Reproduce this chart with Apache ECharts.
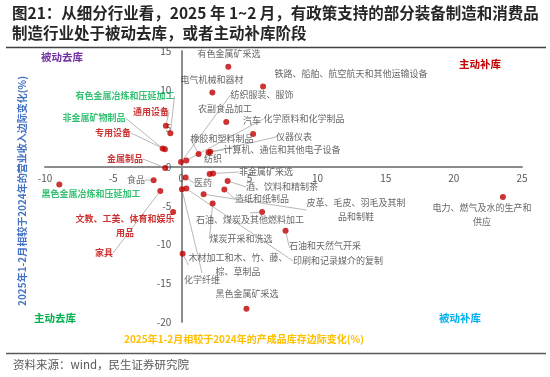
<!DOCTYPE html>
<html><head><meta charset="utf-8">
<script src="https://cdn.jsdelivr.net/npm/echarts@6/dist/echarts.min.js"></script>
<style>html,body{margin:0;padding:0;background:#fff}#c{width:550px;height:377px}</style>
</head><body><div id="c"></div>
<script>
// ---------- data ----------
const industries = [
  '有色金属冶炼和压延加工','通用设备','非金属矿物制品','专用设备','金属制品',
  '食品','黑色金属冶炼和压延加工','文教、工美、体育和娱乐用品','家具',
  '有色金属矿采选','铁路、船舶、航空航天和其他运输设备','电气机械和器材','农副食品加工','汽车',
  '纺织服装、服饰','化学原料和化学制品','橡胶和塑料制品','仪器仪表','计算机、通信和其他电子设备',
  '医药','化学纤维','印刷和记录媒介的复制','纺织','非金属矿采选','酒、饮料和精制茶','造纸和纸制品',
  '皮革、毛皮、羽毛及其制品和制鞋','煤炭开采和洗选','石油、煤炭及其他燃料加工','石油和天然气开采',
  '木材加工和木、竹、藤、棕、草制品','黑色金属矿采选','电力、燃气及水的生产和供应'
];
// x: 2025年1-2月相较于2024年的产成品库存边际变化(%)
const inventoryChange = [
  -0.8, -1.13, -1.37, -1.2, -1.18,
  -2.03, -8.95, -0.6, -1.54,
  3.45, 6.0, 2.28, 3.3, 5.27,
  -0.02, 0.37, 1.27, 2.0, 2.13,
  0.32, 0.05, 0.37, 2.08, 2.33, 3.4, 3.16,
  1.64, 2.3, 5.93, 7.65,
  0.1, 4.78, 23.6
];
// y: 2025年1-2月相较于2024年的营业收入边际变化(%)
const revenueChange = [
  4.37, 5.36, 2.4, 2.3, -0.1,
  -1.7, -2.25, -5.8, -3.08,
  12.95, 10.4, 9.65, 5.84, 4.28,
  0.65, 0.87, 1.69, 1.9, 2.0,
  -1.34, -2.86, -2.77, -0.9, -0.82, -1.78, -2.9,
  -3.5, -4.7, -5.8, -8.2,
  -11.2, -18.3, -3.85
];
const xTicks = [-10, -5, 0, 5, 10, 15, 20, 25];
const yTicks = [-20, -15, -10, -5, 0, 5, 10, 15];

// ---------- label styling (positions / colours, not data) ----------
const displayText = {
  '文教、工美、体育和娱乐用品':'文教、工美、体育和娱乐\n用品',
  '皮革、毛皮、羽毛及其制品和制鞋':'皮革、毛皮、羽毛及其制\n品和制鞋',
  '木材加工和木、竹、藤、棕、草制品':'木材加工和木、竹、藤、\n棕、草制品',
  '电力、燃气及水的生产和供应':'电力、燃气及水的生产和\n供应'
};
const redLabels = ['通用设备','专用设备','金属制品','文教、工美、体育和娱乐用品','家具'];
const greenLabels = ['有色金属冶炼和压延加工','非金属矿物制品','黑色金属冶炼和压延加工'];
const labelPos = {
  '有色金属冶炼和压延加工':[125,96],'通用设备':[151,112],'非金属矿物制品':[94,118],'专用设备':[113,133],'金属制品':[125,159],
  '食品':[136,180],'黑色金属冶炼和压延加工':[91,194],'文教、工美、体育和娱乐用品':[125,226],'家具':[104,253],
  '有色金属矿采选':[229,54],'铁路、船舶、航空航天和其他运输设备':[351,74],'电气机械和器材':[212,80],'农副食品加工':[225,109],'汽车':[252,121],
  '纺织服装、服饰':[262,95],'化学原料和化学制品':[304,119],'橡胶和塑料制品':[222,139],'仪器仪表':[294,137],'计算机、通信和其他电子设备':[282,150],
  '医药':[203,183],'化学纤维':[202,280],'印刷和记录媒介的复制':[338,261],'纺织':[213,159],'非金属矿采选':[266,172],'酒、饮料和精制茶':[282,187],'造纸和纸制品':[262,199],
  '皮革、毛皮、羽毛及其制品和制鞋':[356,210],'煤炭开采和洗选':[241,239],'石油、煤炭及其他燃料加工':[250,220],'石油和天然气开采':[325,246],
  '木材加工和木、竹、藤、棕、草制品':[238,265],'黑色金属矿采选':[247,294],'电力、燃气及水的生产和供应':[482,215]
};
const noLeader = ['黑色金属冶炼和压延加工','文教、工美、体育和娱乐用品','有色金属矿采选','电气机械和器材',
  '铁路、船舶、航空航天和其他运输设备','农副食品加工','汽车','黑色金属矿采选','电力、燃气及水的生产和供应','纺织'];

const FONT = "'Noto Sans CJK SC','Microsoft YaHei',sans-serif";
const GRID = { left: 45, right: 28, top: 51, bottom: 55 };
const W = 550, H = 377;
const gridW = W - GRID.left - GRID.right, gridH = H - GRID.top - GRID.bottom;
const xMin = xTicks[0], xMax = xTicks[xTicks.length - 1];
const yMin = yTicks[0], yMax = yTicks[yTicks.length - 1];
// move the axes (line + labels) to cross at zero
const xAxisOffset = -((0 - yMin) / (yMax - yMin)) * gridH;
const yAxisOffset = -((0 - xMin) / (xMax - xMin)) * gridW;

const seriesData = industries.map((n, i) => {
  const isRed = redLabels.includes(n), isGreen = greenLabels.includes(n);
  return {
    name: n,
    value: [inventoryChange[i], revenueChange[i]],
    label: {
      color: isRed ? '#c00000' : (isGreen ? '#00b050' : '#404040'),
      fontWeight: (isRed || isGreen) ? 'bold' : 'normal'
    },
    labelLine: { show: !noLeader.includes(n) }
  };
});

const chart = echarts.init(document.getElementById('c'), null, { renderer: 'canvas' });

function txt(x, y, t, color, size, weight, extra) {
  return Object.assign({
    type: 'text', x: x, y: y, z: 100,
    style: { text: t, fill: color, font: (weight || 'normal') + ' ' + size + 'px ' + FONT,
             textAlign: 'center', textVerticalAlign: 'middle' }
  }, extra || {});
}

chart.setOption({
  animation: false,
  backgroundColor: '#fff',
  grid: GRID,
  xAxis: {
    type: 'value', min: xMin, max: xMax, interval: 5, position: 'bottom', offset: xAxisOffset,
    axisLine: { onZero: false, lineStyle: { color: '#8c8c8c', width: 2 } },
    axisTick: { show: false }, splitLine: { show: false },
    axisLabel: { color: '#595959', fontSize: 10, fontFamily: FONT, margin: 6 }
  },
  yAxis: {
    type: 'value', min: yMin, max: yMax, interval: 5, position: 'left', offset: yAxisOffset,
    axisLine: { onZero: false, lineStyle: { color: '#8c8c8c', width: 2 } },
    axisTick: { show: false }, splitLine: { show: false },
    axisLabel: { color: '#595959', fontSize: 10, fontFamily: FONT, margin: 10 }
  },
  series: [{
    type: 'scatter',
    symbolSize: 6,
    itemStyle: { color: '#c00000' },
    data: seriesData,
    label: {
      show: true, fontSize: 9, fontFamily: FONT, lineHeight: 14,
      formatter: p => displayText[p.name] || p.name
    },
    labelLine: { show: true, lineStyle: { color: '#a6a6a6', width: 0.8 } },
    labelLayout: function (p) {
      const name = industries[p.dataIndex];
      const pos = labelPos[name];
      return { x: pos[0], y: pos[1], align: 'center', verticalAlign: 'middle', hideOverlap: false };
    }
  }],
  graphic: [
    { type: 'text', x: 12, y: 13, z: 100, style: { text: '图21：从细分行业看，2025 年 1~2 月，有政策支持的部分装备制造和消费品', fill: '#262626',
        font: 'bold 15.5px ' + FONT, textAlign: 'left', textVerticalAlign: 'middle' } },
    { type: 'text', x: 12, y: 33, z: 100, style: { text: '制造行业处于被动去库，或者主动补库阶段', fill: '#262626',
        font: 'bold 15.5px ' + FONT, textAlign: 'left', textVerticalAlign: 'middle' } },
    { type: 'line', z: 100, shape: { x1: 6, y1: 47.5, x2: 546, y2: 47.5 }, style: { stroke: '#404040', lineWidth: 1.5 } },
    { type: 'line', z: 100, shape: { x1: 6, y1: 353.5, x2: 546, y2: 353.5 }, style: { stroke: '#595959', lineWidth: 1.5 } },
    { type: 'text', x: 13, y: 365, z: 100, style: { text: '资料来源：wind，民生证券研究院', fill: '#595959',
        font: '11.5px ' + FONT, textAlign: 'left', textVerticalAlign: 'middle' } },
    txt(62, 57, '被动去库', '#7030a0', 10.5, 'bold'),
    txt(480, 64, '主动补库', '#c00000', 10.5, 'bold'),
    txt(55, 318, '主动去库', '#00b050', 10.5, 'bold'),
    txt(460, 318, '被动补库', '#00b0f0', 10.5, 'bold'),
    txt(244, 339, '2025年1-2月相较于2024年的产成品库存边际变化(%)', '#ffc000', 10, 'bold'),
    txt(22, 191, '2025年1-2月相较于2024年的营业收入边际变化(%)', '#4472c4', 10, 'bold', { rotation: Math.PI / 2 })
  ]
});
</script>
</body></html>
